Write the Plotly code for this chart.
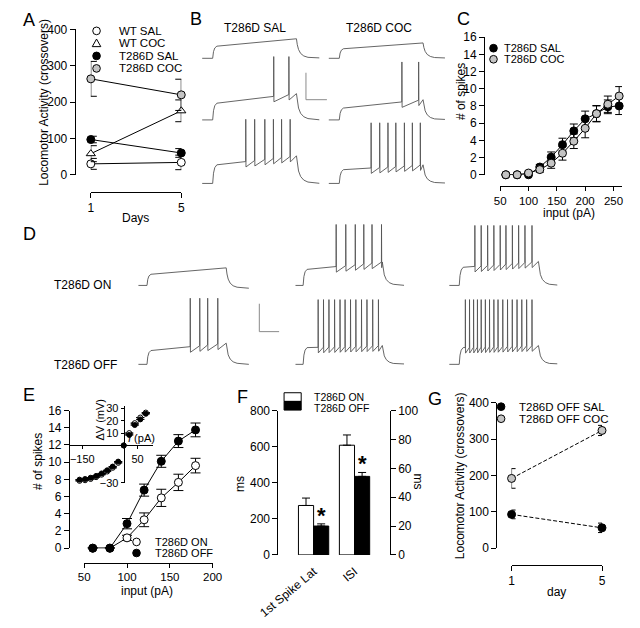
import plotly.graph_objects as go

# page has an 8px body margin; figure covers reference pixels 8..632 x 8..620
OFF = 8
W, H = 624, 612
FONT = "Liberation Sans, Arial, Helvetica, sans-serif"
GREY = "#c4c4c4"
TRACE_COL = "#555555"
FS = 12

# ================= DATA =================
# Panel A: locomotor activity
A_DAYS = [1, 5]
A_WT_SAL = [30, 34]
A_WT_SAL_ERR = [15, 20]
A_WT_COC = [58, 176]
A_WT_COC_ERR = [22, 30]
A_T_SAL = [97, 60]
A_T_SAL_ERR = [9, 12]
A_T_COC = [264, 220]
A_T_COC_ERR = [48, 43]
A_YTICKS = [0, 100, 200, 300, 400]
A_LEGEND = ["WT SAL", "WT COC", "T286D SAL", "T286D COC"]

# Panel B: example sweeps (mV above rest, spike times in ms after step onset)
REST_MV = -70
B_TITLES = ["T286D SAL", "T286D COC"]
B_SAL_STEP = [9.0, 12.4, 13.8]
B_SAL_END = [14.5, 19.5, 20.5]
B_SAL_SPIKES = [[], [582, 727], [315, 400, 497, 579, 657, 739]]
B_SAL_PEAK = [0, 47, 47.6]
B_COC_STEP = [7.1, 8.8, 10.2]
B_COC_END = [11.4, 15.0, 13.8]
B_COC_SPIKES = [[], [597, 757], [303, 385, 464, 539, 621, 697, 773]]
B_COC_PEAK = [0, 43, 45]

# Panel C: spikes vs input
C_INPUT = [60, 80, 100, 120, 140, 160, 180, 200, 220, 240, 260]
C_SAL = [0, 0, 0, 0.9, 2.05, 3.5, 5.1, 6.5, 7.1, 7.9, 8.0]
C_SAL_ERR = [0, 0, 0.2, 0.3, 0.6, 0.75, 0.8, 0.9, 0.9, 0.8, 1.0]
C_COC = [0, 0, 0.2, 0.6, 1.35, 2.5, 3.9, 5.4, 7.1, 8.2, 9.15]
C_COC_ERR = [0, 0, 0.2, 0.3, 0.6, 0.8, 0.85, 1.1, 0.95, 0.95, 1.1]
C_XTICKS = [50, 100, 150, 200, 250]
C_YTICKS = [0, 2, 4, 6, 8, 10, 12, 14, 16]
C_LEGEND = ["T286D SAL", "T286D COC"]

# Panel D: example sweeps
D_ROWS = ["T286D ON", "T286D OFF"]
D_ON_STEP = [8.0, 11.5, 13.0]
D_ON_END = [12.6, 16.8, 17.2]
D_ON_AFTER = [-2, 0, 0]
D_ON_SPIKES = [[], [333, 430, 526, 612, 695, 791],
               [157, 221, 286, 349, 413, 471, 536, 599, 663, 734]]
D_ON_PEAK = [0, 43.7, 43]
D_OFF_STEP = [9.9, 12.0, 12.0]
D_OFF_END = [15.2, 13.5, 13.5]
D_OFF_AFTER = [0, 0, 0]
D_OFF_SPIKES = [[436, 532, 612, 714],
                [151, 205, 260, 317, 372, 423, 478, 532, 589, 644, 702, 760],
                [61, 103, 144, 183, 221, 263, 305, 349, 391, 439, 487, 535, 583, 631, 680, 734]]
D_OFF_PEAK = [47.4, 46.4, 46.4]
SCALE_MV = 20
SCALE_MS = 200

# Panel E: spikes vs input + inset I-V
E_INPUT = [60, 80, 100, 120, 140, 160, 180]
E_ON = [0, 0, 1.2, 3.3, 5.85, 7.65, 9.6]
E_ON_ERR = [0, 0, 0.3, 0.8, 1.0, 0.95, 0.85]
E_OFF = [0, 0, 2.85, 6.75, 10.1, 12.45, 13.75]
E_OFF_ERR = [0, 0, 0.6, 0.7, 0.7, 0.75, 0.8]
E_XTICKS = [50, 100, 150, 200]
E_YTICKS = [0, 2, 4, 6, 8, 10, 12, 14, 16]
E_LEGEND = ["T286D ON", "T286D OFF"]
INSET_I = [-160, -140, -120, -100, -80, -60, -40, -20, 0, 20, 40, 60, 80]
INSET_OFF = [-27.5, -27, -26, -24.5, -22.5, -20, -17, -13, 0, 8.5, 16.5, 21, 25.5]
INSET_ON = [-28.5, -28, -27, -25.5, -23.5, -21, -18, -14, 0, 10, 18, 22.5, 26.5]
INSET_XTICKS = [-150, 50]
INSET_YTICKS = [-30, 10, 20, 30]

# Panel F: bars
F_CATS = ["1st Spike Lat", "ISI"]
F_LAT_ON, F_LAT_ON_ERR = 274, 41
F_LAT_OFF, F_LAT_OFF_ERR = 160, 12
F_ISI_ON, F_ISI_ON_ERR = 76, 7.1
F_ISI_OFF, F_ISI_OFF_ERR = 54.4, 2.7
F_LTICKS = [0, 200, 400, 600, 800]
F_RTICKS = [0, 20, 40, 60, 80, 100]
F_LEGEND = ["T286D ON", "T286D OFF"]

# Panel G
G_DAYS = [1, 5]
G_SAL = [93, 56]
G_SAL_ERR = [12, 13]
G_COC = [192, 324]
G_COC_ERR = [27, 14]
G_YTICKS = [0, 100, 200, 300, 400]
G_LEGEND = ["T286D OFF SAL", "T286D OFF COC"]

# sweep template (ms)
T_ON, T_OFF, T_END = 100, 900, 1200
ONSET_DT = [8, 20, 40]
ONSET_FR = [0.55, 0.85, 1.0]
DECAY_DT = [8, 20, 40, 70, 110, 160, 230]
DECAY_FR = [0.7, 0.45, 0.25, 0.12, 0.05, 0.02, 0.0]
AHP_MV = 4


# ================= helpers =================
def fx(p):
    return (p - OFF) / W


def fy(p):
    return 1 - (p - OFF) / H


layout = dict(width=W, height=H, margin=dict(l=0, r=0, t=0, b=0),
              paper_bgcolor="white", plot_bgcolor="rgba(0,0,0,0)",
              showlegend=False, barmode="overlay",
              font=dict(family=FONT, size=FS, color="black"))
shapes, annotations, traces = [], [], []
axn = [0]


def new_axes(xd, yd, xr, yr, xopt=None, yopt=None):
    axn[0] += 1
    n = axn[0]
    s = "" if n == 1 else str(n)
    xa = dict(domain=[max(0, fx(xd[0])), min(1, fx(xd[1]))], range=xr, anchor="y" + s,
              visible=False, showgrid=False, zeroline=False, fixedrange=True)
    ya = dict(domain=[max(0, fy(yd[1])), min(1, fy(yd[0]))], range=yr, anchor="x" + s,
              visible=False, showgrid=False, zeroline=False, fixedrange=True)
    if xopt:
        xa.update(xopt)
    if yopt:
        ya.update(yopt)
    layout["xaxis" + s] = xa
    layout["yaxis" + s] = ya
    return "x" + s, "y" + s


def shown(pos, vals, ticklen=5, size=FS, **kw):
    d = dict(visible=True, showline=True, linecolor="black", linewidth=1,
             ticks="outside", ticklen=ticklen, tickwidth=1, tickcolor="black",
             tickvals=vals, anchor="free", position=pos,
             tickfont=dict(size=size, family=FONT, color="black"))
    d.update(kw)
    return d


def text(x, y, s, size=FS, xanchor="left", angle=0, yanchor="middle"):
    annotations.append(dict(x=fx(x), y=fy(y), xref="paper", yref="paper", text=s,
                            showarrow=False, xanchor=xanchor, yanchor=yanchor,
                            textangle=angle,
                            font=dict(size=size, family=FONT, color="black")))


def circ(cx, cy, fill, r=4):
    shapes.append(dict(type="circle", xref="paper", yref="paper",
                       x0=fx(cx - r), x1=fx(cx + r), y0=fy(cy + r), y1=fy(cy - r),
                       fillcolor=fill, line=dict(color="black", width=1)))


def tri(cx, cy, fill, r=4.5):
    path = "M {},{} L {},{} L {},{} Z".format(fx(cx - r), fy(cy + r * 0.75),
                                            fx(cx + r), fy(cy + r * 0.75),
                                            fx(cx), fy(cy - r))
    shapes.append(dict(type="path", path=path, xref="paper", yref="paper",
                       fillcolor=fill, line=dict(color="black", width=1)))


def series(x, y, err, xa, ya, symbol="circle", fill="black", dash="solid",
           size=8, capw=4, lines=True):
    traces.append(go.Scatter(
        x=x, y=y, xaxis=xa, yaxis=ya, mode="lines+markers" if lines else "markers",
        line=dict(color="black", width=1, dash=dash),
        marker=dict(symbol=symbol, size=size, color=fill,
                    line=dict(color="black", width=1)),
        error_y=dict(type="data", array=err, color="black", thickness=1, width=capw),
        cliponaxis=False, hoverinfo="skip"))


def sweep(v_step, v_end, spikes, peak, after=0):
    nt = [0, T_ON] + [T_ON + d for d in ONSET_DT] + [T_OFF]
    nv = [0, 0] + [v_step * f for f in ONSET_FR] + [v_end]

    def level(t):
        for i in range(len(nt) - 1):
            if nt[i] <= t <= nt[i + 1]:
                a = (t - nt[i]) / (nt[i + 1] - nt[i])
                return nv[i] + a * (nv[i + 1] - nv[i])
        return nv[-1]

    pts = [p for p in zip(nt, nv)]
    for s in spikes:
        ts = T_ON + s
        L = level(ts)
        pts += [(ts, L), (ts + 1, peak), (ts + 3, L - AHP_MV)]
    pts += [(T_OFF + d, after + (v_end - after) * f) for d, f in zip(DECAY_DT, DECAY_FR)]
    pts += [(T_END, after)]
    pts.sort(key=lambda p: p[0])
    return [p[0] for p in pts], [REST_MV + p[1] for p in pts]


def sweep_axes(px_on, px_start, px_end, py_rest, ppms, ppmv):
    t0 = T_ON + (px_start - px_on) / ppms
    t1 = T_ON + (px_end - px_on) / ppms
    top = min(55, (py_rest - OFF - 1) / ppmv)
    bot = 8
    return new_axes((px_start, px_end), (py_rest - top * ppmv, py_rest + bot * ppmv),
                    [t0, t1], [REST_MV - bot, REST_MV + top])


def add_sweep(ax, ay, data):
    t, v = sweep(*data)
    traces.append(go.Scatter(x=t, y=v, xaxis=ax, yaxis=ay, mode="lines",
                             line=dict(color=TRACE_COL, width=0.9), hoverinfo="skip"))


def bar_line(x0, y0, x1, y1):
    shapes.append(dict(type="line", xref="paper", yref="paper", x0=fx(x0), x1=fx(x1),
                       y0=fy(y0), y1=fy(y1), line=dict(color="#8a8a8a", width=1)))


# ================= Panel A =================
xa, ya = new_axes((74, 169), (23, 174), [1, 5], [0, 400],
                  shown(fy(192), A_DAYS, ticklen=5),
                  shown(fx(57), A_YTICKS, ticklen=5))
series(A_DAYS, A_WT_SAL, A_WT_SAL_ERR, xa, ya, "circle", "white", capw=6)
series(A_DAYS, A_WT_COC, A_WT_COC_ERR, xa, ya, "triangle-up", "white", capw=6)
series(A_DAYS, A_T_SAL, A_T_SAL_ERR, xa, ya, "circle", "black", capw=6)
series(A_DAYS, A_T_COC, A_T_COC_ERR, xa, ya, "circle", GREY, capw=6)
A_ROWS = [24.5, 37.5, 50.5, 63.5]
circ(80, A_ROWS[0], "white")
tri(80, A_ROWS[1], "white")
circ(80, A_ROWS[2], "black")
circ(80, A_ROWS[3], GREY)
for r, lab in zip(A_ROWS, A_LEGEND):
    text(102, r, lab, size=11.5)
text(24, 99, "Locomotor Activity (crossovers)", xanchor="center", angle=-90)
text(121, 219, "Days", xanchor="center")

# ================= Panel B =================
B_PPMS, B_PPMV = 0.11, 1.4
B_ON_PX = [202, 335]
B_START_PX = [190, 323]
B_END_PX = [314, 446]
B_REST_PX = [53, 117, 183]
for c, (stp, end, spk, pk) in enumerate([(B_SAL_STEP, B_SAL_END, B_SAL_SPIKES, B_SAL_PEAK),
                                          (B_COC_STEP, B_COC_END, B_COC_SPIKES, B_COC_PEAK)]):
    for r in range(3):
        ax, ay = sweep_axes(B_ON_PX[c], B_START_PX[c], B_END_PX[c], B_REST_PX[r], B_PPMS, B_PPMV)
        add_sweep(ax, ay, (stp[r], end[r], spk[r], pk[r]))
text(246, 22, B_TITLES[0], xanchor="center")
text(377, 22, B_TITLES[1], xanchor="center")
bx, by = 300, 96
bar_line(bx, by, bx, by - SCALE_MV * B_PPMV)
bar_line(bx, by, bx + SCALE_MS * B_PPMS, by)

# ================= Panel C =================
xa, ya = new_axes((504, 636), (31, 174), [50, 265], [0, 16],
                  shown(fy(186), C_XTICKS, ticklen=4, size=11.5),
                  shown(fx(487), C_YTICKS, ticklen=5))
series(C_INPUT, C_SAL, C_SAL_ERR, xa, ya, "circle", "black", capw=4)
series(C_INPUT, C_COC, C_COC_ERR, xa, ya, "circle", GREY, capw=4)
circ(497, 42.5, "black")
circ(497, 54, GREY)
text(506, 42.5, C_LEGEND[0], size=11)
text(506, 54, C_LEGEND[1], size=11)
text(463, 88, "# of spikes", xanchor="center", angle=-90)
text(576, 214, "input (pA)", xanchor="center")

# ================= Panel D =================
D_PPMS, D_PPMV = 0.104, 1.45
D_ON_PX = [133, 297, 461]
D_START_PX = [124, 289, 450]
D_END_PX = [240, 403, 564]
D_REST_PX = [289, 371]
for c in range(3):
    ax, ay = sweep_axes(D_ON_PX[c], D_START_PX[c], D_END_PX[c], D_REST_PX[0], D_PPMS, D_PPMV)
    add_sweep(ax, ay, (D_ON_STEP[c], D_ON_END[c], D_ON_SPIKES[c], D_ON_PEAK[c], D_ON_AFTER[c]))
    ax, ay = sweep_axes(D_ON_PX[c], D_START_PX[c], D_END_PX[c], D_REST_PX[1], D_PPMS, D_PPMV)
    add_sweep(ax, ay, (D_OFF_STEP[c], D_OFF_END[c], D_OFF_SPIKES[c], D_OFF_PEAK[c], D_OFF_AFTER[c]))
text(33, 289, D_ROWS[0])
text(33, 372, D_ROWS[1])
bx, by = 251, 337
bar_line(bx, by, bx, by - SCALE_MV * D_PPMV)
bar_line(bx, by, bx + SCALE_MS * D_PPMS, by)

# ================= Panel E =================
xa, ya = new_axes((67, 202), (419, 562), [50, 200], [0, 16],
                  shown(fy(577), E_XTICKS, ticklen=4, size=11.5),
                  shown(fx(51), E_YTICKS, ticklen=5))
series(E_INPUT, E_ON, E_ON_ERR, xa, ya, "circle", "white", capw=5)
series(E_INPUT, E_OFF, E_OFF_ERR, xa, ya, "circle", "black", capw=5)
circ(122, 555.5, "white")
circ(122, 567, "black")
text(139, 555.5, E_LEGEND[0], size=11)
text(139, 567, E_LEGEND[1], size=11)
text(18, 472, "# of spikes", xanchor="center", angle=-90)
text(133, 607, "input (pA)", xanchor="center")
# inset
xa, ya = new_axes((52, 139), (414, 494), [-195, 105], [-30, 32],
                  shown(fy(455.3), INSET_XTICKS, ticklen=3, size=11),
                  shown(fx(108.5), INSET_YTICKS, ticklen=3, size=11))
series(INSET_I, INSET_ON, [0] * len(INSET_I), xa, ya, "circle", "white", size=5, lines=False)
series(INSET_I, INSET_OFF, [0] * len(INSET_I), xa, ya, "circle", "black", size=5, lines=False)
text(84, 428, "\u0394V (mV)", size=11, xanchor="center", angle=-90)
text(127, 447, "<i>I</i> (pA)", size=11, xanchor="center")

# ================= Panel F =================
xa, ya = new_axes((270, 388), (419, 569), [-0.884, 1.86], [0, 800],
                  dict(visible=True, type="category", categoryarray=F_CATS,
                       categoryorder="array", showline=False, ticks="outside",
                       ticklen=4, tickcolor="rgba(0,0,0,0)", tickangle=-40,
                       tickfont=dict(size=FS, family=FONT, color="black")),
                  shown(fx(270), F_LTICKS, ticklen=5))
axn[0] += 1
yr_key = "yaxis" + str(axn[0])
yr = "y" + str(axn[0])
layout[yr_key] = shown(fx(388), F_RTICKS, ticklen=5)
layout[yr_key].update(domain=layout["yaxis" + ya[1:]]["domain"], range=[0, 100],
                      overlaying=ya, side="right", showgrid=False, zeroline=False,
                      fixedrange=True)
BW = 0.37


def fbar(cat, val, err, axis_y, fill):
    off = -BW if fill == "white" else 0
    traces.append(go.Bar(x=[cat], y=[val], xaxis=xa, yaxis=axis_y, width=BW, offset=off,
                         marker=dict(color=fill, line=dict(color="black", width=1)),
                         error_y=dict(type="data", symmetric=False, array=[err], arrayminus=[0],
                                      color="black", thickness=1, width=4),
                         hoverinfo="skip"))


fbar(F_CATS[0], F_LAT_ON, F_LAT_ON_ERR, ya, "white")
fbar(F_CATS[0], F_LAT_OFF, F_LAT_OFF_ERR, ya, "black")
fbar(F_CATS[1], F_ISI_ON, F_ISI_ON_ERR, yr, "white")
fbar(F_CATS[1], F_ISI_OFF, F_ISI_OFF_ERR, yr, "black")
annotations.append(dict(x=BW / 2, y=F_LAT_OFF + F_LAT_OFF_ERR, xref=xa, yref=ya, text="<b>*</b>",
                        showarrow=False, xanchor="center", yanchor="bottom", yshift=-6,
                        font=dict(size=22, family=FONT, color="black")))
annotations.append(dict(x=1 + BW / 2, y=F_ISI_OFF + F_ISI_OFF_ERR, xref=xa, yref=yr, text="<b>*</b>",
                        showarrow=False, xanchor="center", yanchor="bottom", yshift=-6,
                        font=dict(size=22, family=FONT, color="black")))
shapes.append(dict(type="rect", xref="paper", yref="paper", x0=fx(277), x1=fx(295),
                   y0=fy(409.5), y1=fy(400.5), fillcolor="white", line=dict(color="black", width=1)))
shapes.append(dict(type="rect", xref="paper", yref="paper", x0=fx(277), x1=fx(295),
                   y0=fy(418.5), y1=fy(409.5), fillcolor="black", line=dict(color="black", width=1)))
text(306, 405, F_LEGEND[0], size=10.5)
text(306, 416.5, F_LEGEND[1], size=10.5)
text(230, 495, "ms", xanchor="center", angle=-90)
text(418, 493, "ms", xanchor="center", angle=90)

# ================= Panel G =================
xa, ya = new_axes((516, 611), (411, 562), [1, 5], [0, 400],
                  shown(fy(579), G_DAYS, ticklen=5),
                  shown(fx(500), G_YTICKS, ticklen=5))
series(G_DAYS, G_SAL, G_SAL_ERR, xa, ya, "circle", "black", dash="4px,2px", capw=4)
series(G_DAYS, G_COC, G_COC_ERR, xa, ya, "circle", GREY, dash="4px,2px", capw=4)
circ(505, 415, "black")
circ(505, 427.5, GREY)
text(522, 415, G_LEGEND[0], size=11.5)
text(522, 427.5, G_LEGEND[1], size=11.5)
text(462, 487, "Locomotor Activity (crossovers)", xanchor="center", angle=-90)
text(563, 608, "day", xanchor="center")

# panel letters
for lab, (x, y) in zip("ABCDEFG", [(9, 13), (184, 12), (465, 12), (10, 236), (9, 403), (233, 405), (436, 407)]):
    text(x, y, lab, size=18, xanchor="center")

layout["shapes"] = shapes
layout["annotations"] = annotations
fig = go.Figure(data=traces, layout=layout)
fig.write_html("out.html")
